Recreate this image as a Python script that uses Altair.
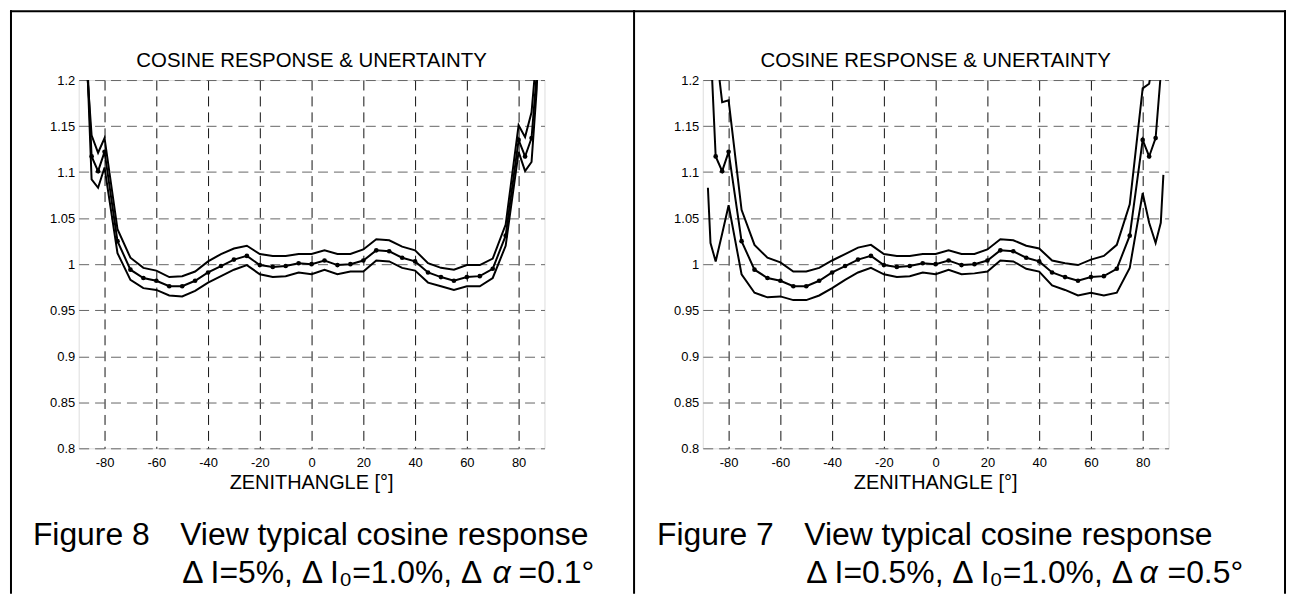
import altair as alt
import pandas as pd

# ---------------- data ----------------
angles = [-88, -87, -85, -82.5, -80, -75, -70, -65, -60, -55, -50, -45, -40, -35,
          -30, -25, -20, -15, -10, -5, 0, 5, 10, 15, 20, 25, 30, 35, 40, 45, 50,
          55, 60, 65, 70, 75, 80, 82.5, 85, 87, 88]

# measured cosine response (dotted curve, same in both figures)
middle = [1.30, 1.24, 1.117, 1.101, 1.122, 1.025, 0.994, 0.985, 0.982, 0.976, 0.976,
          0.982, 0.991, 0.998, 1.005, 1.009, 0.999, 0.997, 0.998, 1.001, 1.000, 1.004,
          0.999, 1.000, 1.004, 1.015, 1.014, 1.007, 1.003, 0.991, 0.986, 0.982, 0.986,
          0.987, 0.995, 1.031, 1.135, 1.117, 1.137, 1.207, 1.26]

# Figure 8 envelope
left_upper = [1.33, 1.22, 1.140, 1.121, 1.137, 1.038, 1.007, 0.996, 0.993, 0.986, 0.987,
              0.992, 1.003, 1.011, 1.017, 1.020, 1.011, 1.009, 1.009, 1.011, 1.011, 1.015,
              1.011, 1.011, 1.016, 1.027, 1.026, 1.019, 1.015, 1.001, 0.996, 0.994, 0.999,
              0.999, 1.006, 1.043, 1.151, 1.138, 1.165, 1.23, 1.30]
left_lower = [1.35, 1.24, 1.092, 1.083, 1.105, 1.012, 0.983, 0.974, 0.972, 0.966, 0.965,
              0.971, 0.980, 0.987, 0.994, 0.999, 0.989, 0.986, 0.987, 0.991, 0.989, 0.994,
              0.989, 0.992, 0.992, 1.004, 1.003, 0.996, 0.993, 0.980, 0.976, 0.972, 0.976,
              0.976, 0.985, 1.020, 1.122, 1.101, 1.111, 1.19, 1.26]

# Figure 7 envelope
right_upper = [1.45, 1.35, 1.236, 1.176, 1.178, 1.059, 1.021, 1.007, 1.002, 0.992, 0.992,
               0.996, 1.004, 1.011, 1.018, 1.021, 1.011, 1.009, 1.009, 1.011, 1.011, 1.015,
               1.011, 1.011, 1.016, 1.027, 1.026, 1.020, 1.017, 1.004, 1.001, 0.999, 1.005,
               1.009, 1.021, 1.065, 1.191, 1.196, 1.24, 1.33, 1.40]
right_lower = [1.083, 1.023, 1.003, 1.033, 1.064, 0.989, 0.969, 0.964, 0.965, 0.961, 0.961,
               0.966, 0.974, 0.983, 0.991, 0.996, 0.989, 0.986, 0.987, 0.991, 0.989, 0.994,
               0.989, 0.990, 0.992, 1.004, 1.003, 0.995, 0.992, 0.977, 0.972, 0.966, 0.969,
               0.966, 0.969, 0.996, 1.077, 1.045, 1.023, 1.045, 1.097]

x_ticks = [-80, -60, -40, -20, 0, 20, 40, 60, 80]
y_ticks = [0.8, 0.85, 0.9, 0.95, 1.0, 1.05, 1.1, 1.15, 1.2]

title_text = "COSINE RESPONSE & UNERTAINTY"
x_title = "ZENITHANGLE [°]"
captions = {
    "left": ["Figure 8", "View typical cosine response", "Δ I=5%, Δ I₀=1.0%, Δ", "α", "=0.1°"],
    "right": ["Figure 7", "View typical cosine response", "Δ I=0.5%, Δ I₀=1.0%, Δ", "α", "=0.5°"],
}

# ---------------- layout ----------------
FONT = "Liberation Sans"
W, H = 468, 370
one = pd.DataFrame({"k": [0]})


def txt(s, x, y, size, align="left", style="normal"):
    return alt.Chart(one).mark_text(
        text=s, align=align, baseline="alphabetic", font=FONT, fontSize=size,
        fontStyle=style, color="black"
    ).encode(x=alt.value(x), y=alt.value(y))


def hrule(x, x2, y):
    return alt.Chart(one).mark_rule(color="black", strokeWidth=2, strokeCap="square").encode(
        x=alt.value(x), x2=alt.value(x2), y=alt.value(y))


def vrule(x, y, y2):
    return alt.Chart(one).mark_rule(color="black", strokeWidth=2, strokeCap="square").encode(
        x=alt.value(x), y=alt.value(y), y2=alt.value(y2))


def panel(upper, lower, cap, alpha_x, eq_x, frame_layers):
    n = len(angles)
    df = pd.DataFrame({
        "angle": angles * 3,
        "value": upper + middle + lower,
        "series": ["upper"] * n + ["middle"] * n + ["lower"] * n,
    })
    dmid = pd.DataFrame({"angle": angles, "value": middle})
    xenc = alt.X("angle:Q",
                 scale=alt.Scale(domain=[-90, 90], nice=False, zero=False),
                 axis=alt.Axis(values=x_ticks, title=None, grid=True, gridDash=[10, 6],
                               gridColor="#111111", gridWidth=1, ticks=False, tickSize=0,
                               domain=False, labelFont=FONT, labelFontSize=13,
                               labelColor="black", labelPadding=8, labelFlush=False,
                               labelExpr="toString(datum.value)"))
    yenc = alt.Y("value:Q",
                 scale=alt.Scale(domain=[0.8, 1.2], nice=False, zero=False),
                 axis=alt.Axis(values=y_ticks, title=None, grid=True,
                               gridDash=[10, 6], gridColor="#666666", gridWidth=1,
                               ticks=False, tickSize=0, domain=False, labelFont=FONT,
                               labelFontSize=13, labelColor="black", labelPadding=4,
                               labelFlush=False, labelOverlap=False,
                               labelExpr="toString(datum.value)"))
    lines = alt.Chart(df).mark_line(color="black", strokeWidth=2, clip=True).encode(
        x=xenc, y=yenc, detail="series:N")
    pts = alt.Chart(dmid).mark_circle(color="black", size=22, opacity=1, clip=True).encode(
        x=xenc, y=yenc)
    layers = [lines, pts,
              txt(title_text, W / 2, -13, 20.5, align="center"),
              txt(x_title, W / 2, 411, 20, align="center"),
              txt(cap[0], -46, 467, 32),
              txt(cap[1], 102, 467, 32),
              txt(cap[2], 104, 505, 32),
              txt(cap[3], alpha_x, 505, 32, align="center", style="italic"),
              txt(cap[4], eq_x, 505, 32)] + frame_layers
    return alt.layer(*layers).properties(width=W, height=H)


left_frame = [vrule(-68, -69, 515), hrule(-68, 558, -69), vrule(558, -69, 515)]
right_frame = [hrule(-69, 585, -69), vrule(585, -69, 515)]

left = panel(left_upper, left_lower, captions["left"], 425, 442, left_frame)
right = panel(right_upper, right_lower, captions["right"], 448, 467, right_frame)

chart = alt.hconcat(left, right, spacing=159, bounds="flush").properties(
    padding={"left": 1, "top": 0, "right": 0, "bottom": 0}
).configure_view(stroke="black", strokeWidth=1.5).configure(background="white")

chart.save("out.html", embed_options={"renderer": "svg", "actions": False})
